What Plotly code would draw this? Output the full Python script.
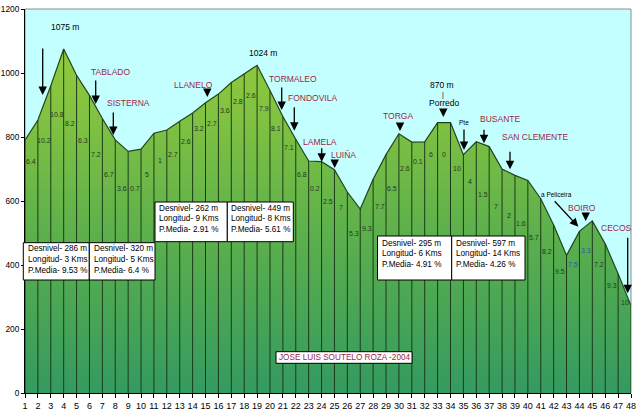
import plotly.graph_objects as go

# ---------------- data ----------------
km = list(range(1, 49))
elevation = [790, 853, 960, 1075, 993, 930, 858, 791, 755, 762,
             812, 822, 849, 875, 907, 934, 970, 998, 1024, 945,
             864, 793, 725, 723, 698, 628, 575, 668, 745, 810,
             784, 785, 845, 845, 745, 785, 770, 700, 680, 664,
             607, 525, 430, 505, 538, 466, 373, 273]
slope_labels = ["6.4", "10.2", "10.8", "8.2", "6.3", "7.2", "6.7", "3.6", "0.7", "5",
                "1", "2.7", "2.6", "3.2", "2.7", "3.6", "2.8", "2.6", "7.9", "8.1",
                "7.1", "6.8", "0.2", "2.5", "7", "5.3", "9.3", "7.7", "6.5", "2.6",
                "0.1", "6", "0", "10", "4", "1.5", "7", "2", "1.6", "5.7",
                "8.2", "9.5", "7.5", "3.3", "7.2", "9.3", "10"]
slope_label_elev = [723, 790, 869, 843, 790, 744, 684, 640, 640, 684,
                    726, 744, 785, 827, 843, 884, 910, 929, 890, 827,
                    767, 684, 640, 598, 580, 497, 514, 584, 640, 702,
                    723, 744, 744, 702, 660, 619, 583, 556, 530, 486,
                    442, 379, 402, 444, 402, 337, 282]
sections = [
    ["Desnivel- 286 m", "Longitud- 3 Kms", "P.Media- 9.53 %"],
    ["Desnivel- 320 m", "Longitud- 5 Kms", "P.Media- 6.4 %"],
    ["Desnivel- 262 m", "Longitud- 9 Kms", "P.Media- 2.91 %"],
    ["Desnivel- 449 m", "Longitud- 8 Kms", "P.Media- 5.61 %"],
    ["Desnivel- 295 m", "Longitud- 6 Kms", "P.Media- 4.91 %"],
    ["Desnivel- 597 m", "Longitud- 14 Kms", "P.Media- 4.26 %"],
]
credit = "JOSE LUIS SOUTELO ROZA -2004"

# ---------------- geometry ----------------
W, H = 640, 419
PL, PT, PW, PH = 25, 9, 606, 384          # plot area in page pixels
L, T = PL, PT
R = W - L - PW
B = H - T - PH


def kx(px):
    return 1 + (px - PL) * 47 / PW


def ey(py):
    return (PT + PH - py) * 1200 / PH


def pxp(px):
    return (px - PL) / PW


def pyp(py):
    return (PT + PH - py) / PH


FONT = "Liberation Sans, Arial, sans-serif"
RED = "#9C1F47"

fig = go.Figure()

fig.add_trace(go.Scatter(
    x=km, y=elevation, mode="lines", fill="tozeroy",
    line=dict(color="#23451C", width=1.2),
    fillgradient=dict(type="vertical", start=0, stop=1100,
                      colorscale=[[0, "#349A60"], [0.45, "#5CB04C"], [0.75, "#7DC042"], [1, "#95CC3A"]]),
    hoverinfo="skip", showlegend=False))

vx, vy = [], []
for k, e in zip(km, elevation):
    vx += [k, k, None]
    vy += [0, e, None]
fig.add_trace(go.Scatter(x=vx, y=vy, mode="lines",
                         line=dict(color="#1C3A1A", width=1),
                         hoverinfo="skip", showlegend=False))

ann = []
# slope labels
for i, (lab, ly) in enumerate(zip(slope_labels, slope_label_elev)):
    col = "#1F5FA8" if i in (42, 43) else "#1E3A1E"
    ann.append(dict(x=km[i] + 0.5, y=ly, text=lab, showarrow=False,
                    font=dict(size=7, color=col, family=FONT)))

# place names / texts (page pixel centres)
texts = [
    ("1075 m", 65, 27, 8.5, "black"),
    ("TABLADO", 110, 72, 8.5, RED),
    ("SISTERNA", 128, 103, 8.5, RED),
    ("LLANELO", 193, 85, 8.5, RED),
    ("1024 m", 262.7, 52.7, 8.5, "black"),
    ("TORMALEO", 292.7, 79, 8.5, RED),
    ("FONDOVILA", 312.7, 97.7, 8.5, RED),
    ("LAMELA", 320, 141.7, 8.5, RED),
    ("LUIÑA", 343.3, 155.3, 8.5, RED),
    ("TORGA", 398.3, 116, 8.5, RED),
    ("870 m", 441.7, 85, 8.5, "black"),
    ("|", 443, 94.5, 7, "black"),
    ("Porredo", 444, 102.7, 8.5, "black"),
    ("Pte", 464.3, 122.7, 6.5, "black"),
    ("BUSANTE", 500, 119.3, 8.5, RED),
    ("SAN CLEMENTE", 535, 136.7, 8.5, RED),
    ("a Peliceira", 556.7, 194.3, 6.5, "black"),
    ("BOIRO", 581.7, 208.3, 8.5, RED),
    ("CECOS", 616, 228.3, 8.5, RED),
]
for t, px, py, sz, col in texts:
    ann.append(dict(x=kx(px), y=ey(py), text=t, showarrow=False,
                    font=dict(size=sz, color=col, family=FONT)))
ann.append(dict(x=kx(23.5), y=ey(34.5), text="EL<br>REBOLLAR", showarrow=False,
                xanchor="left", align="left",
                font=dict(size=6.5, color=RED, family=FONT)))

# arrows: (tip px x, tip px y, ax, ay)
arrows = [
    (42.7, 95, 0, -48), (95.7, 104, 0, -25), (113.3, 135, 0, -24),
    (207.3, 97, 0, -6), (281.7, 110, 0, -24), (294.3, 130.7, 0, -25),
    (321.7, 161.7, 0, -15), (334.7, 168, 0, -6), (400, 131, 0, -6),
    (443.3, 117, 0, -6), (464, 150, 0, -22), (484, 143.3, 0, -15),
    (510, 169.3, 0, -19), (578.3, 226.7, -25, -27), (585.7, 221, 0, -6),
    (627.7, 293.3, 0, -57),
]
for px, py, ax, ay in arrows:
    ann.append(dict(x=kx(px), y=ey(py), text="", showarrow=True, ax=ax, ay=ay,
                    arrowhead=2, arrowsize=1.3, arrowwidth=1.3, arrowcolor="black"))

# section boxes: (left, top, right, bottom, text-left, line ys)
boxes = [
    (23.3, 242.7, 89.3, 280, 25.7, (248.3, 259.3, 270)),
    (89.3, 242.7, 155, 280, 91.7, (248.3, 259.3, 270)),
    (155, 202, 227.3, 241.7, 156.7, (208, 218.5, 229)),
    (227.3, 202, 293.3, 241.7, 229, (208, 218.5, 229)),
    (377.5, 236, 451.7, 280, 379.5, (243.5, 254, 264.5)),
    (451.7, 236, 525, 280, 453.5, (243.5, 254, 264.5)),
]
shapes = []
for (x0, y0, x1, y1, tx, lys), lines in zip(boxes, sections):
    shapes.append(dict(type="rect", xref="paper", yref="paper",
                       x0=pxp(x0), x1=pxp(x1), y0=pyp(y1), y1=pyp(y0),
                       fillcolor="white", line=dict(color="black", width=1), layer="above"))
    for ly, txt in zip(lys, lines):
        ann.append(dict(xref="paper", yref="paper", x=pxp(tx), y=pyp(ly), text=txt,
                        showarrow=False, xanchor="left", yanchor="middle",
                        font=dict(size=8.2, color="black", family=FONT)))

shapes.append(dict(type="rect", xref="paper", yref="paper",
                   x0=pxp(276), x1=pxp(412), y0=pyp(363.3), y1=pyp(351.7),
                   fillcolor="white", line=dict(color="black", width=1), layer="above"))
ann.append(dict(xref="paper", yref="paper", x=pxp(344), y=pyp(357.5), text=credit,
                showarrow=False, yanchor="middle",
                font=dict(size=8.2, color=RED, family=FONT)))

# plot frame (grey top / right)
shapes.append(dict(type="rect", xref="paper", yref="paper", x0=0, x1=1, y0=0, y1=1,
                   line=dict(color="#8C8C8C", width=1), layer="below"))

fig.update_layout(
    width=W, height=H,
    margin=dict(l=L, r=R, t=T, b=B, pad=0, autoexpand=False),
    paper_bgcolor="white", plot_bgcolor="#C4FFFF",
    font=dict(family=FONT, size=9, color="black"),
    showlegend=False,
    shapes=shapes, annotations=ann,
    xaxis=dict(range=[1, 48], tickmode="array", tickvals=km, ticktext=[str(k) for k in km],
               automargin=False, tickangle=0,
               showgrid=False, zeroline=False, showline=True, linecolor="black", linewidth=1,
               ticks="outside", ticklen=4, tickcolor="black", tickfont=dict(size=9)),
    yaxis=dict(range=[0, 1200], tickmode="linear", tick0=0, dtick=200, automargin=False,
               showgrid=False, zeroline=False, showline=True, linecolor="black", linewidth=1,
               ticks="outside", ticklen=3, tickcolor="black", tickfont=dict(size=8.3)),
)

fig.write_html("out.html",
               config={"displayModeBar": False},
               post_script="document.body.style.margin='0px';"
                           "document.documentElement.style.overflow='hidden';")
